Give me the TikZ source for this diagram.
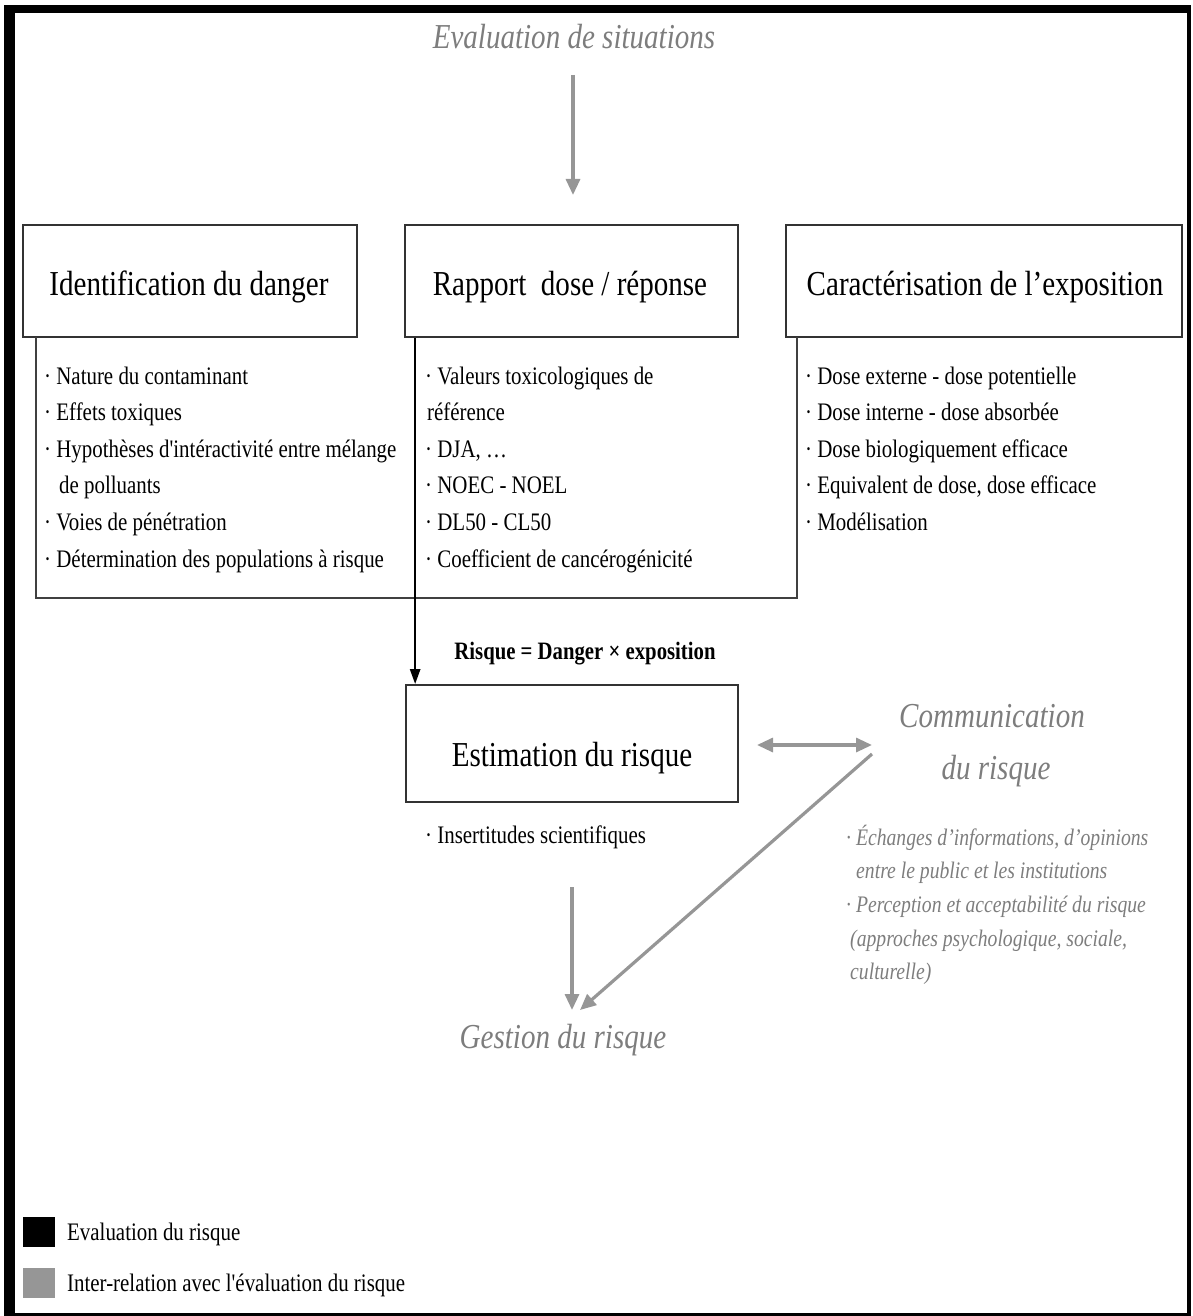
\documentclass[tikz,border=0pt]{standalone}
\usepackage{fontspec}
\setmainfont{Liberation Serif}[FakeStretch=0.83, Ligatures=TeXOff]
\usetikzlibrary{arrows.meta}
\definecolor{lgray}{RGB}{150,150,150}
\definecolor{tgray}{RGB}{125,125,125}
\definecolor{sqgray}{RGB}{150,150,150}
\begin{document}
\begin{tikzpicture}[x=1pt,y=-1pt,
  boxst/.style={draw=black!80, line width=1.7pt, inner sep=0pt, minimum height=112pt},
  titletxt/.style={anchor=base, inner sep=0pt, font=\fontsize{35}{40}\selectfont},
  bodytxt/.style={anchor=base west, inner sep=0pt, font=\fontsize{25.2}{29}\selectfont},
  comtxt/.style={anchor=base west, inner sep=0pt, text=tgray, font=\fontsize{23.7}{27}\selectfont\itshape},
  graytitle/.style={anchor=base, inner sep=0pt, text=tgray, font=\fontsize{35}{40}\selectfont\itshape},
  grayarrow/.style={draw=lgray, line width=3.2pt, -{Triangle[length=16pt,width=14pt]}},
  framebar/.style={fill=black, draw=none}
]
\useasboundingbox (0,0) rectangle (1192,1316);
% frame
\fill[framebar] (5,5) rectangle (1191,13);
\fill[framebar] (4,5) rectangle (15,1316);
\fill[framebar] (1187,5) rectangle (1191,1315);
\fill[framebar] (4,1313) rectangle (1191,1315.5);

% top
\node[graytitle] (sit) at (574,49) {Evaluation de situations};
\coordinate (sitA) at (573,75);
\coordinate (sitB) at (573,195);
\draw[grayarrow] (sitA) -- (sitB);

% boxes
\node[boxst, minimum width=334pt] (b1) at (190,281) {};
\node[boxst, minimum width=333pt] (b2) at (571.5,281) {};
\node[boxst, minimum width=396pt] (b3) at (984,281) {};
\node[titletxt] (t1) at (189,295) {Identification du danger};
\node[titletxt] (t2) at (570,295) {Rapport \ dose / réponse};
\node[titletxt] (t3) at (985,295) {Caractérisation de l’exposition};

% large lower frame
\coordinate (fA) at (36,337);
\coordinate (fB) at (36,598);
\coordinate (fC) at (797,598);
\coordinate (fD) at (797,337);
\draw[draw=black!75, line width=1.5pt] (fA) -- (fB) -- (fC) -- (fD);

% box 1 items
\node[bodytxt] (d1) at (44,384) {· Nature du contaminant};
\node[bodytxt] (d2) at (44,420.6) {· Effets toxiques};
\node[bodytxt] (d3) at (44,457.2) {· Hypothèses d'intéractivité entre mélange};
\node[bodytxt] (d4) at (59,493.8) {de polluants};
\node[bodytxt] (d5) at (44,530.4) {· Voies de pénétration};
\node[bodytxt] (d6) at (44,567) {· Détermination des populations à risque};

% box 2 items
\node[bodytxt] (r1) at (425,384) {· Valeurs toxicologiques de};
\node[bodytxt] (r2) at (427,420.6) {référence};
\node[bodytxt] (r3) at (425,457.2) {· DJA, …};
\node[bodytxt] (r4) at (425,493.8) {· NOEC - NOEL};
\node[bodytxt] (r5) at (425,530.4) {· DL50 - CL50};
\node[bodytxt] (r6) at (425,567) {· Coefficient de cancérogénicité};

% box 3 items
\node[bodytxt] (e1) at (805,384) {· Dose externe - dose potentielle};
\node[bodytxt] (e2) at (805,420.6) {· Dose interne - dose absorbée};
\node[bodytxt] (e3) at (805,457.2) {· Dose biologiquement efficace};
\node[bodytxt] (e4) at (805,493.8) {· Equivalent de dose, dose efficace};
\node[bodytxt] (e5) at (805,530.4) {· Modélisation};

% estimation
\node[boxst, minimum width=332pt, minimum height=117pt] (est) at (572,743.5) {};
\node[titletxt] (estt) at (572,766) {Estimation du risque};
\node[anchor=base, inner sep=0pt, font=\fontsize{25}{30}\selectfont\bfseries] (formula) at (585,659) {Risque = Danger × exposition};
\draw[line width=2.5pt, -{Triangle[length=15pt,width=10pt]}] ([xshift=11pt]b2.south west) -- ([xshift=10pt]est.north west);
\node[bodytxt] (ins) at (425,843) {· Insertitudes scientifiques};

% communication
\node[graytitle] (com1) at (992,727) {Communication};
\node[graytitle] (com2) at (996,779) {du risque};
\coordinate (dA) at (757,745);
\coordinate (dB) at (872,745);
\draw[draw=lgray, line width=3.2pt, {Triangle[length=16pt,width=14pt]}-{Triangle[length=16pt,width=14pt]}] (dA) -- (dB);
\node[comtxt] (c1) at (846,845) {· Échanges d’informations, d’opinions};
\node[comtxt] (c2) at (856,878) {entre le public et les institutions};
\node[comtxt] (c3) at (846,912) {· Perception et acceptabilité du risque};
\node[comtxt] (c4) at (850,946) {(approches psychologique, sociale,};
\node[comtxt] (c5) at (850,979) {culturelle)};

% gestion
\node[graytitle] (ges) at (563,1048) {Gestion du risque};
\coordinate (gA) at (572,887);
\coordinate (gB) at (572,1010);
\coordinate (hA) at (872,754);
\coordinate (hB) at (580,1010);
\draw[grayarrow] (gA) -- (gB);
\draw[grayarrow] (hA) -- (hB);

% legend
\node[fill=black, inner sep=0pt, minimum width=32pt, minimum height=30pt] (lg1) at (39,1232) {};
\node[fill=sqgray, inner sep=0pt, minimum width=32pt, minimum height=30pt] (lg2) at (39,1283) {};
\node[bodytxt] (lt1) at (67,1240) {Evaluation du risque};
\node[bodytxt] (lt2) at (67,1291) {Inter-relation avec l'évaluation du risque};
\end{tikzpicture}
\end{document}
